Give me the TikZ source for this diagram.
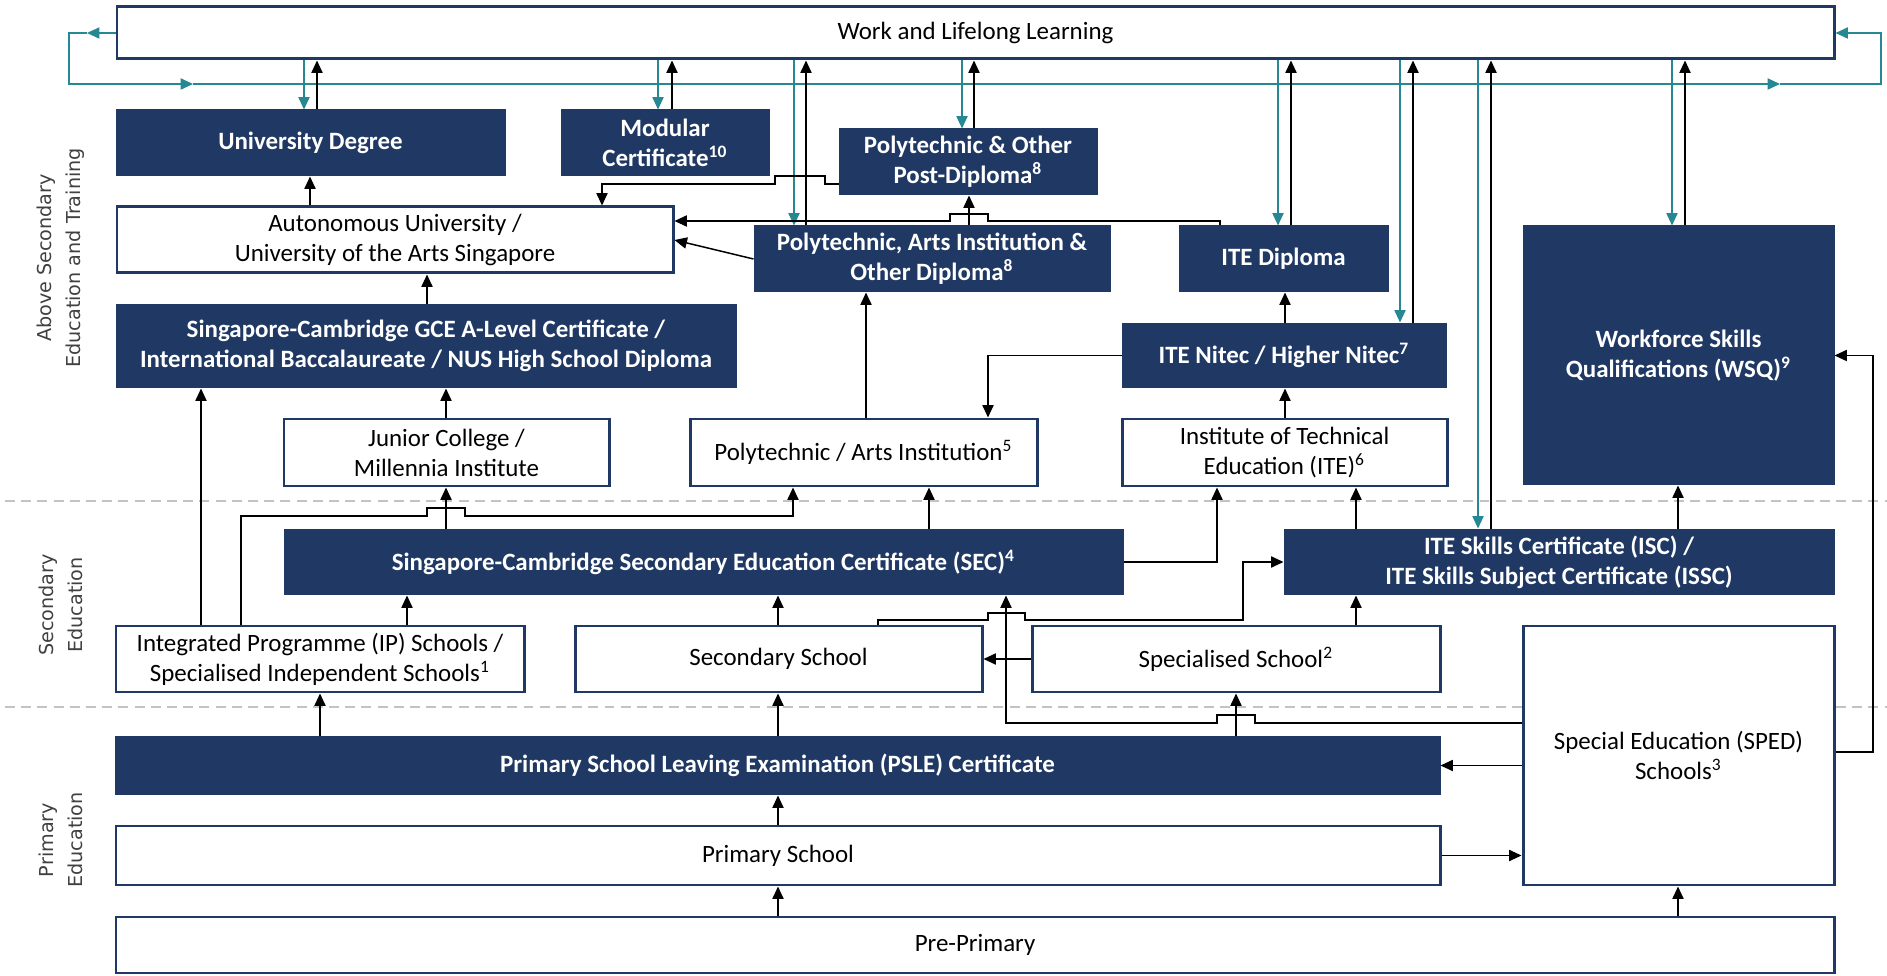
\documentclass[tikz,border=0pt]{standalone}
\usepackage{fontspec}
\setmainfont{Carlito}
\newfontfamily\sidefont{DejaVu Sans}
\usetikzlibrary{arrows.meta}
\definecolor{navy}{RGB}{31,56,100}
\definecolor{loopteal}{RGB}{38,136,146}
\definecolor{sepgrey}{RGB}{195,195,195}
\def\pxu{0.0141cm}
\tikzset{
  corners/.style n args={4}{minimum width={(#3-#1)*\pxu},minimum height={(#4-#2)*\pxu},at={({(#1+#3)/2},{(#2+#4)/2})}},
  plainbox/.style={draw=navy,fill=white,line width=1.2pt,inner sep=0pt,align=center,font=\fontsize{10}{12}\selectfont},
  darkbox/.style={plainbox,fill=navy,text=white,font=\fontsize{10}{12}\selectfont\bfseries},
  link/.style={-{Triangle[length=5pt,width=4.5pt]},line width=0.6pt},
  tlink/.style={link,color=loopteal},
  sidelabel/.style={rotate=90,align=center,text=black!75,font=\sidefont\fontsize{7.7}{11.5}\selectfont}
}

\begin{document}
\begin{tikzpicture}[x=\pxu,y=-\pxu]
  %%%%% START %%%%%
  \useasboundingbox (0,0) rectangle (1887,976);

  % stage separators
  \draw[sepgrey,line width=0.6pt,dash pattern=on 4pt off 2.5pt] (5,501) -- (1887,501);
  \draw[sepgrey,line width=0.6pt,dash pattern=on 4pt off 2.5pt] (5,707) -- (1887,707);

  \node[sidelabel] (lblabove) at (61,258) {Above Secondary\\Education and Training};
  \node[sidelabel] (lblsec) at (61,605) {Secondary\\Education};
  \node[sidelabel] (lblpri) at (61,840) {Primary\\Education};

  % boxes
  \node[plainbox,corners={117}{7}{1834}{59}] (wll) {Work and Lifelong Learning};
  \node[darkbox,corners={117}{111}{504}{175}] (ud) {University Degree};
  \node[darkbox,corners={562}{111}{768}{175}] (mod) {Modular\\Certificate\textsuperscript{10}};
  \node[darkbox,corners={840}{130}{1096}{194}] (ppd) {Polytechnic \& Other\\Post-Diploma\textsuperscript{8}};
  \node[plainbox,corners={117}{207}{673}{273}] (au) {Autonomous University /\\University of the Arts Singapore};
  \node[darkbox,corners={755}{227}{1109}{291}] (pd) {Polytechnic, Arts Institution \&\\Other Diploma\textsuperscript{8}};
  \node[darkbox,corners={1180}{227}{1387}{291}] (itedip) {ITE Diploma};
  \node[darkbox,corners={1524}{227}{1833}{484}] (wsq) {Workforce Skills\\Qualifications (WSQ)\textsuperscript{9}};
  \node[darkbox,corners={117}{305}{735}{387}] (alevel) {Singapore-Cambridge GCE A-Level Certificate /\\International Baccalaureate / NUS High School Diploma};
  \node[darkbox,corners={1123}{324}{1445}{387}] (nitec) {ITE Nitec / Higher Nitec\textsuperscript{7}};
  \node[plainbox,corners={284}{419}{609}{486}] (jc) {Junior College /\\Millennia Institute};
  \node[plainbox,corners={690}{419}{1037}{486}] (poly) {Polytechnic / Arts Institution\textsuperscript{5}};
  \node[plainbox,corners={1122}{419}{1447}{486}] (ite) {Institute of Technical\\Education (ITE)\textsuperscript{6}};
  \node[darkbox,corners={285}{530}{1122}{594}] (sec) {Singapore-Cambridge Secondary Education Certificate (SEC)\textsuperscript{4}};
  \node[darkbox,corners={1285}{530}{1833}{594}] (isc) {ITE Skills Certificate (ISC) /\\ITE Skills Subject Certificate (ISSC)};
  \node[plainbox,corners={116}{626}{524}{692}] (ip) {Integrated Programme (IP) Schools /\\Specialised Independent Schools\textsuperscript{1}};
  \node[plainbox,corners={575}{626}{982}{692}] (ss) {Secondary School};
  \node[plainbox,corners={1032}{626}{1440}{692}] (sps) {Specialised School\textsuperscript{2}};
  \node[plainbox,corners={1523}{626}{1834}{885}] (sped) {Special Education (SPED)\\Schools\textsuperscript{3}};
  \node[darkbox,corners={116}{737}{1439}{794}] (psle) {Primary School Leaving Examination (PSLE) Certificate};
  \node[plainbox,corners={116}{826}{1440}{885}] (ps) {Primary School};
  \node[plainbox,corners={116}{917}{1834}{973}] (pp) {Pre-Primary};

  % loop round work and lifelong learning
  \draw[tlink] (wll.west) -- (87,33);
  \draw[tlink] (87,33) -- (69,33) -- (69,84) -- (193,84);
  \draw[tlink] (193,84) -- (1780,84);
  \draw[tlink] (1780,84) -- (1881,84) -- (1881,33) -- (wll.east);

  % to and from work
  \draw[tlink] (304,0 |- wll.south) -- (304,0 |- ud.north);
  \draw[link] (317,0 |- ud.north) -- (317,0 |- wll.south);
  \draw[tlink] (658,0 |- wll.south) -- (658,0 |- mod.north);
  \draw[link] (672,0 |- mod.north) -- (672,0 |- wll.south);
  \draw[tlink] (794,0 |- wll.south) -- (794,0 |- pd.north);
  \draw[link] (806,0 |- pd.north) -- (806,0 |- wll.south);
  \draw[tlink] (962,0 |- wll.south) -- (962,0 |- ppd.north);
  \draw[link] (974,0 |- ppd.north) -- (974,0 |- wll.south);
  \draw[tlink] (1278,0 |- wll.south) -- (1278,0 |- itedip.north);
  \draw[link] (1291,0 |- itedip.north) -- (1291,0 |- wll.south);
  \draw[tlink] (1400,0 |- wll.south) -- (1400,0 |- nitec.north);
  \draw[link] (1413,0 |- nitec.north) -- (1413,0 |- wll.south);
  \draw[tlink] (1478,0 |- wll.south) -- (1478,0 |- isc.north);
  \draw[link] (1491,0 |- isc.north) -- (1491,0 |- wll.south);
  \draw[tlink] (1672,0 |- wll.south) -- (1672,0 |- wsq.north);
  \draw[link] (1685,0 |- wsq.north) -- (1685,0 |- wll.south);

  % above secondary
  \draw[link] (310,0 |- au.north) -- (310,0 |- ud.south);
  \draw[link] (427,0 |- alevel.north) -- (427,0 |- au.south);
  \draw[link] (446,0 |- jc.north) -- (446,0 |- alevel.south);
  \draw[link] (ppd.west |- 0,184) -- (825,184) -- (825,176) -- (775,176) -- (775,184) -- (602,184) -- (602,0 |- au.north);
  \draw[link] (1220,0 |- itedip.north) -- (1220,221) -- (988,221) -- (988,214) -- (950,214) -- (950,221) -- (au.east |- 0,221);
  \draw[link] (pd.west) -- (au.east);
  \draw[link] (969,0 |- pd.north) -- (969,0 |- ppd.south);
  \draw[link] (866,0 |- poly.north) -- (866,0 |- pd.south);
  \draw[link] (1285,0 |- nitec.north) -- (1285,0 |- itedip.south);
  \draw[link] (1285,0 |- ite.north) -- (1285,0 |- nitec.south);
  \draw[link] (nitec.west) -| (988,0 |- poly.north);

  % secondary
  \draw[link] (201,0 |- ip.north) -- (201,0 |- alevel.south);
  \draw[link] (241,0 |- ip.north) -- (241,516) -- (427,516) -- (427,508) -- (465,508) -- (465,516) -- (793,516) -- (793,0 |- poly.south);
  \draw[link] (407,0 |- ip.north) -- (407,0 |- sec.south);
  \draw[link] (446,0 |- sec.north) -- (446,0 |- jc.south);
  \draw[link] (929,0 |- sec.north) -- (929,0 |- poly.south);
  \draw[link] (sec.east) -| (1217,0 |- ite.south);
  \draw[link] (1356,0 |- isc.north) -- (1356,0 |- ite.south);
  \draw[link] (1678,0 |- isc.north) -- (1678,0 |- wsq.south);
  \draw[link] (778,0 |- ss.north) -- (778,0 |- sec.south);
  \draw[link] (878,0 |- ss.north) -- (878,620) -- (988,620) -- (988,613) -- (1025,613) -- (1025,620) -- (1243,620) -- (1243,0 |- isc.west) -- (isc.west);
  \draw[link] (sps.west) -- (ss.east);
  \draw[link] (1356,0 |- sps.north) -- (1356,0 |- isc.south);
  \draw[link] (sped.west |- 0,723) -- (1255,723) -- (1255,715) -- (1217,715) -- (1217,723) -- (1006,723) -- (1006,0 |- sec.south);
  \draw[link] (sped.east |- 0,752) -| (1873,0 |- wsq.east) -- (wsq.east);

  % primary
  \draw[link] (320,0 |- psle.north) -- (320,0 |- ip.south);
  \draw[link] (778,0 |- psle.north) -- (778,0 |- ss.south);
  \draw[link] (1236,0 |- psle.north) -- (1236,0 |- sps.south);
  \draw[link] (sped.west |- psle.east) -- (psle.east);
  \draw[link] (778,0 |- ps.north) -- (778,0 |- psle.south);
  \draw[link] (ps.east) -- (ps.east -| sped.west);
  \draw[link] (778,0 |- pp.north) -- (778,0 |- ps.south);
  \draw[link] (1678,0 |- pp.north) -- (1678,0 |- sped.south);
  %%%%% END %%%%%
\end{tikzpicture}
\end{document}
